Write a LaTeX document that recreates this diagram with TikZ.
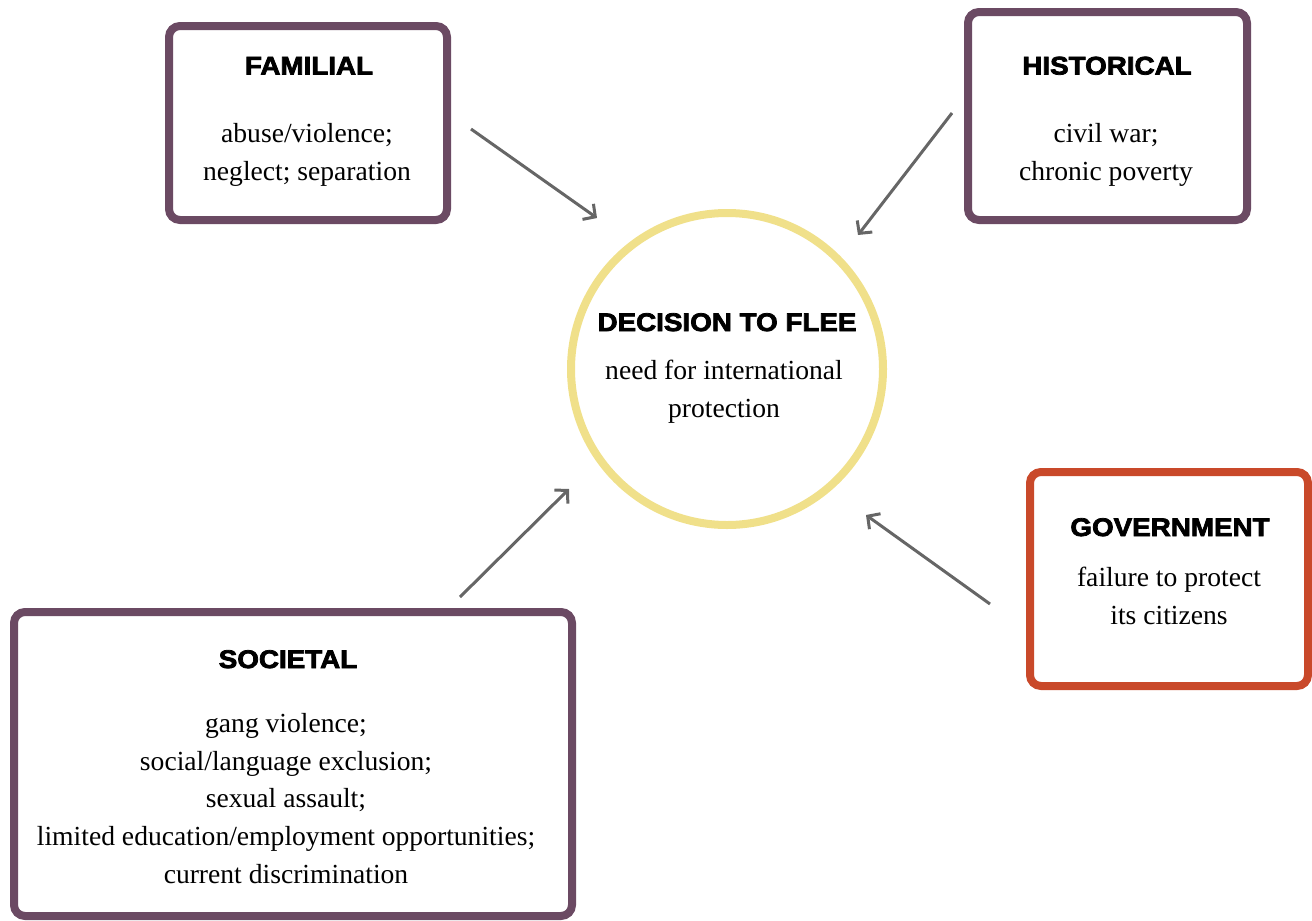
\documentclass[tikz,border=0pt]{standalone}
\usepackage{fontspec}
\setmainfont{Liberation Serif}
\newfontfamily\headfont[BoldFeatures={FakeBold=3,FakeStretch=1.09}]{Liberation Sans}
\usetikzlibrary{arrows.meta}
\definecolor{plum}{HTML}{6B4A63}
\definecolor{rust}{HTML}{C9492A}
\definecolor{sand}{HTML}{F0E08A}
\definecolor{arrowgray}{HTML}{666666}
\begin{document}
\begin{tikzpicture}[x=1pt,y=-1pt,
  box/.style={draw=plum, line width=8pt, rounded corners=11pt, fill=white, inner sep=0pt},
  govbox/.style={box, draw=rust},
  ring/.style={circle, draw=sand, line width=8pt, fill=white, inner sep=0pt, minimum size=312pt},
  title/.style={anchor=base, inner sep=0pt, font=\headfont\bfseries\fontsize{25.5}{30}\selectfont},
  body/.style={anchor=base, inner sep=0pt, align=center, font=\fontsize{27.6}{37.6}\selectfont},
  link/.style={draw=arrowgray, line width=3pt, -{Straight Barb[length=9pt,width=19pt]}}
]
\useasboundingbox (0,0) rectangle (1312,921);

% boxes
\node[box, minimum width=278pt, minimum height=194pt] (fam) at (308,123) {};
\node[box, minimum width=279pt, minimum height=208pt] (his) at (1107.5,116) {};
\node[govbox, minimum width=278pt, minimum height=214pt] (gov) at (1169,579) {};
\node[box, minimum width=558pt, minimum height=304pt] (soc) at (293,764) {};
\node[ring] (flee) at (727,369) {};

% titles
\node[title] (famt) at (309,74.5) {FAMILIAL};
\node[title] (hist) at (1107,74.5) {HISTORICAL};
\node[title] (fleet) at (727,331) {DECISION TO FLEE};
\node[title] (govt) at (1170,536) {GOVERNMENT};
\node[title] (soct) at (288,668) {SOCIETAL};

% texts (anchor = baseline of last line)
\node[body] (famb) at (307,180) {abuse/violence;\\neglect; separation};
\node[body] (hisb) at (1106,180) {civil war;\\chronic poverty};
\node[body] (fleeb) at (724,417) {need for international\\protection};
\node[body] (govb) at (1169,624) {failure to protect\\its citizens};
\node[body] (socb) at (286,883) {gang violence;\\social/language exclusion;\\sexual assault;\\limited education/employment opportunities;\\current discrimination};

% arrow ends
\coordinate (fa1) at (471,129); \coordinate (fa2) at (597,218);
\coordinate (ha1) at (952,113); \coordinate (ha2) at (858,235);
\coordinate (sa1) at (460,597); \coordinate (sa2) at (569,489);
\coordinate (ga1) at (990,604); \coordinate (ga2) at (866,515);

\draw[link] (fa1) -- (fa2);
\draw[link] (ha1) -- (ha2);
\draw[link] (sa1) -- (sa2);
\draw[link] (ga1) -- (ga2);
\end{tikzpicture}
\end{document}
